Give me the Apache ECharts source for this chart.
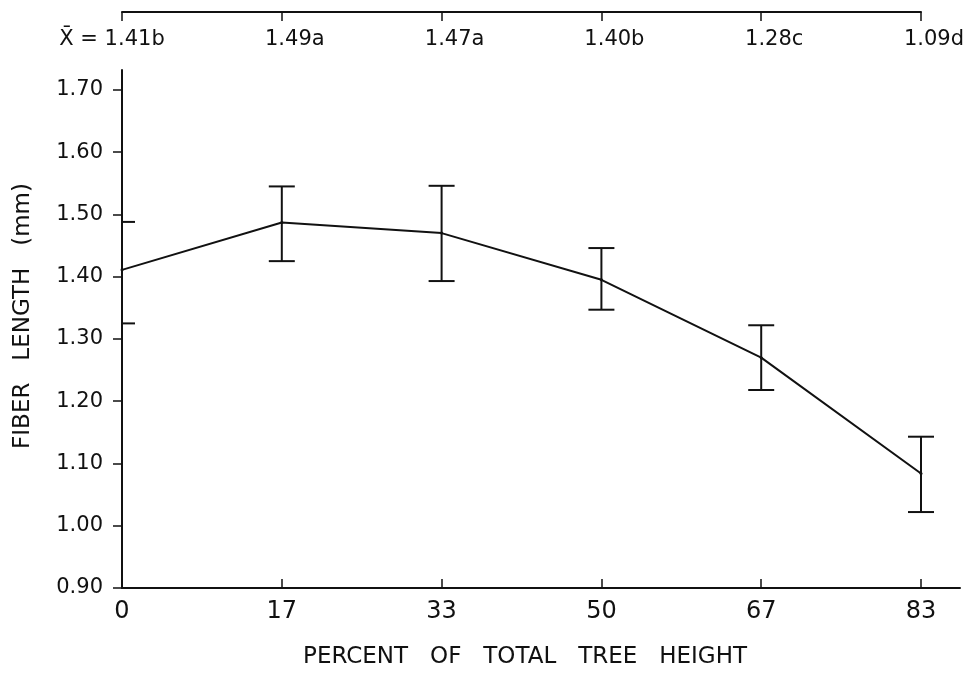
<!DOCTYPE html>
<html>
<head>
<meta charset="utf-8">
<script src="https://cdn.jsdelivr.net/npm/echarts@6/dist/echarts.min.js"></script>
<style>
html,body{margin:0;padding:0;background:#fff;}
#c{width:975px;height:675px;}
</style>
</head>
<body>
<div id="c"></div>
<script>
const heightLabels = ['0', '17', '33', '50', '67', '83'];
const meanLabels = ['X\u0304 = 1.41b', '1.49a', '1.47a', '1.40b', '1.28c', '1.09d'];
const meanValues = [1.411, 1.487, 1.470, 1.395, 1.270, 1.084];
const lowerValues = [1.325, 1.425, 1.393, 1.347, 1.218, 1.022];
const upperValues = [1.488, 1.545, 1.546, 1.446, 1.322, 1.143];
const yTicks = [0.9, 1.0, 1.1, 1.2, 1.3, 1.4, 1.5, 1.6, 1.7];

const FONT = 'DejaVu Sans';
const idx = heightLabels.map((_, i) => i);
const lineData = idx.map(i => [i, meanValues[i]]);
const errData = idx.map(i => [i, lowerValues[i], upperValues[i]]);

const chart = echarts.init(document.getElementById('c'), null, {renderer: 'canvas'});
chart.setOption({
  animation: false,
  backgroundColor: '#fff',
  grid: [
    {left: 122, right: 15, top: 70, bottom: 87},
    {left: 122, right: 54, top: 2, height: 10}
  ],
  xAxis: [
    {
      gridIndex: 0, type: 'value', min: 0, max: 5.244, interval: 1,
      name: 'PERCENT   OF   TOTAL   TREE   HEIGHT',
      nameLocation: 'middle', nameGap: 58,
      nameTextStyle: {fontFamily: FONT, fontSize: 23, color: '#111', padding: [0, 32, 0, 0]},
      axisLine: {show: true, lineStyle: {color: '#111', width: 2}},
      axisTick: {show: true, inside: true, length: 9, lineStyle: {color: '#111', width: 1.5}, customValues: [0,1,2,3,4,5]},
      axisLabel: {
        customValues: [0,1,2,3,4,5],
        margin: 12, fontFamily: FONT, fontSize: 24, color: '#111',
        formatter: v => heightLabels[Math.round(v)] ?? ''
      },
      splitLine: {show: false}
    },
    {
      gridIndex: 1, type: 'value', min: 0, max: 5, interval: 1, position: 'bottom',
      axisLine: {show: true, lineStyle: {color: '#111', width: 2}},
      axisTick: {show: true, inside: false, length: 9, lineStyle: {color: '#111', width: 1.5}},
      axisLabel: {
        margin: 17, fontFamily: FONT, fontSize: 21, color: '#111',
        formatter: v => {
          const i = Math.round(v);
          return i === 0 ? '{f|' + meanLabels[0] + '}' : '{o|' + meanLabels[i] + '}';
        },
        rich: {
          f: {fontFamily: FONT, fontSize: 21, color: '#111', padding: [0, 20, 0, 0]},
          o: {fontFamily: FONT, fontSize: 21, color: '#111', padding: [0, 0, 0, 26]}
        }
      },
      splitLine: {show: false}
    }
  ],
  yAxis: [
    {
      gridIndex: 0, type: 'value', min: 0.9, max: 1.732, interval: 0.1,
      name: 'FIBER   LENGTH   (mm)',
      nameLocation: 'middle', nameGap: 87,
      nameTextStyle: {fontFamily: FONT, fontSize: 23, color: '#111', padding: [0, 0, 0, 26]},
      axisLine: {show: true, lineStyle: {color: '#111', width: 2}},
      axisTick: {show: true, inside: false, length: 9, lineStyle: {color: '#111', width: 1.5}, customValues: yTicks},
      axisLabel: {
        customValues: yTicks,
        margin: 19, fontFamily: FONT, fontSize: 21, color: '#111',
        formatter: v => v.toFixed(2)
      },
      splitLine: {show: false}
    },
    {gridIndex: 1, type: 'value', min: 0, max: 1, show: false}
  ],
  series: [
    {
      type: 'line', xAxisIndex: 0, yAxisIndex: 0,
      data: lineData, symbol: 'circle', symbolSize: 3,
      itemStyle: {color: '#111'},
      lineStyle: {color: '#111', width: 2}
    },
    {
      type: 'custom', xAxisIndex: 0, yAxisIndex: 0, clip: true,
      data: errData,
      renderItem: (params, api) => {
        const x = api.value(0);
        const pLo = api.coord([x, api.value(1)]);
        const pHi = api.coord([x, api.value(2)]);
        const hw = 13;
        const st = {stroke: '#111', lineWidth: 2};
        return {
          type: 'group',
          children: [
            {type: 'line', shape: {x1: pHi[0], y1: pHi[1], x2: pLo[0], y2: pLo[1]}, style: st},
            {type: 'line', shape: {x1: pHi[0] - hw, y1: pHi[1], x2: pHi[0] + hw, y2: pHi[1]}, style: st},
            {type: 'line', shape: {x1: pLo[0] - hw, y1: pLo[1], x2: pLo[0] + hw, y2: pLo[1]}, style: st}
          ]
        };
      }
    },
    {type: 'scatter', xAxisIndex: 1, yAxisIndex: 1, data: []}
  ]
});
</script>
</body>
</html>
